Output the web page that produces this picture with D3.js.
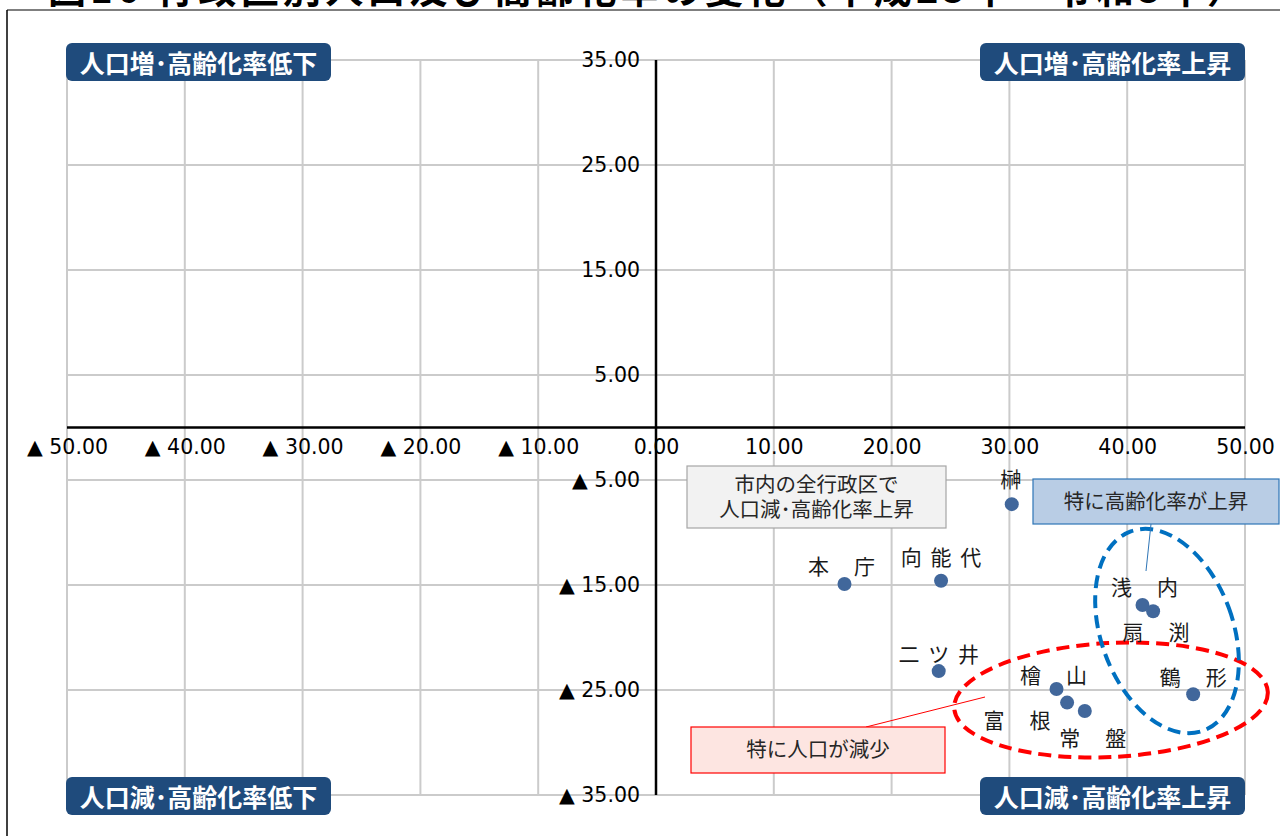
<!DOCTYPE html>
<html lang="ja">
<head>
<meta charset="utf-8">
<title>行政区別人口及び高齢化率の変化</title>
<script src="https://cdn.jsdelivr.net/npm/d3@7/dist/d3.min.js"></script>
<style>
  html, body { margin: 0; padding: 0; background: #fff; overflow: hidden; }
  svg { display: block; font-family: "Noto Sans CJK JP", "Noto Sans", sans-serif; }
</style>
</head>
<body>
<svg id="chart" width="1280" height="836"></svg>
<script>
// 行政区ごとの変化率（%）：x = 高齢化率の変化, y = 人口の変化
const districts   = ["本庁", "向能代", "榊", "二ツ井", "浅内", "扇渕", "鶴形", "檜山", "富根", "常盤"];
const pointLabels = ["本　庁", "向 能 代", "榊", "二 ツ 井", "浅　内", "扇　渕", "鶴　形", "檜　山", "富　根", "常　盤"];
const agingChange = [16.0, 24.2, 30.2, 24.0, 41.3, 42.2, 45.6, 34.0, 34.9, 36.4];
const popChange   = [-14.9, -14.6, -7.3, -23.2, -16.9, -17.5, -25.4, -24.9, -26.2, -27.0];

const xTicks = [-50, -40, -30, -20, -10, 0, 10, 20, 30, 40, 50];
const yTicks = [-35, -25, -15, -5, 5, 15, 25, 35];

const titleText = "図16 行政区別人口及び高齢化率の変化（平成25年→令和5年）";
const quadrantNames = ["人口増･高齢化率低下", "人口増･高齢化率上昇", "人口減･高齢化率低下", "人口減･高齢化率上昇"];

// ラベル位置の調整（点からのずれ, px）
const labelOffsets = {
  "本庁": [-2, -19], "向能代": [1, -25], "榊": [0, -26], "二ツ井": [1, -18],
  "浅内": [3, -19], "扇渕": [4, 20], "鶴形": [1, -18], "檜山": [-2, -15],
  "富根": [-49, 16], "常盤": [9, 26]
};

const svg = d3.select("#chart");

const x = d3.scaleLinear().domain([-50, 50]).range([67, 1245]);
const y = d3.scaleLinear().domain([-35, 35]).range([795, 60]);

const fmt = v => v < 0 ? "▲ " + d3.format(".2f")(-v) : d3.format(".2f")(v);

// 見出し（上端で切れている）
svg.append("text")
  .attr("x", 48).attr("y", 3)
  .attr("font-size", 38).attr("font-weight", "bold").attr("fill", "#000")
  .attr("textLength", 1197).attr("lengthAdjust", "spacing")
  .text(titleText);

// 枠線
svg.append("line").attr("x1", 7).attr("x2", 1280).attr("y1", 10).attr("y2", 10)
  .attr("stroke", "#7f7f7f").attr("stroke-width", 2);
svg.append("line").attr("x1", 7).attr("x2", 7).attr("y1", 10).attr("y2", 836)
  .attr("stroke", "#000").attr("stroke-width", 1.5);

// グリッド線
const grid = svg.append("g").attr("stroke", "#cbcbcb").attr("stroke-width", 2);
grid.selectAll("line.v").data(xTicks).join("line").attr("class", "v")
  .attr("x1", d => x(d)).attr("x2", d => x(d))
  .attr("y1", y(35)).attr("y2", y(-35));
grid.selectAll("line.h").data(yTicks).join("line").attr("class", "h")
  .attr("x1", x(-50)).attr("x2", x(50))
  .attr("y1", d => y(d)).attr("y2", d => y(d));

// 軸
const xAxis = svg.append("g")
  .attr("transform", `translate(0,${y(0)})`)
  .call(d3.axisBottom(x).tickValues(xTicks).tickSize(0).tickPadding(12).tickFormat(fmt));
const yAxis = svg.append("g")
  .attr("transform", `translate(${x(0)},0)`)
  .call(d3.axisLeft(y).tickValues(yTicks).tickSize(0).tickPadding(16).tickFormat(fmt));
[xAxis, yAxis].forEach(g => {
  g.select(".domain").remove();
  g.selectAll("text")
    .attr("font-family", "\"DejaVu Sans\", sans-serif")
    .attr("font-size", 20.5).attr("fill", "#000");
});

svg.append("line").attr("x1", x(-50)).attr("x2", x(50)).attr("y1", y(0)).attr("y2", y(0))
  .attr("stroke", "#000").attr("stroke-width", 2.5);
svg.append("line").attr("x1", x(0)).attr("x2", x(0)).attr("y1", y(35)).attr("y2", y(-35))
  .attr("stroke", "#000").attr("stroke-width", 2.5);

// 象限ラベル
const quadrantBoxes = [
  { name: quadrantNames[0], left: true,  yv: 35 },
  { name: quadrantNames[1], left: false, yv: 35 },
  { name: quadrantNames[2], left: true,  yv: -35 },
  { name: quadrantNames[3], left: false, yv: -35 }
];
const qW = 265, qH = 38;
const qg = svg.append("g").selectAll("g").data(quadrantBoxes).join("g")
  .attr("transform", d => {
    const x0 = d.left ? x(-50) - 1 : x(50) - qW;
    const y0 = y(d.yv) + (d.yv > 0 ? 2 : 1) - qH / 2;
    return `translate(${x0},${y0})`;
  });
qg.append("rect").attr("width", qW).attr("height", qH).attr("rx", 6)
  .attr("fill", "#1f4b7c");
qg.append("text").attr("x", qW / 2).attr("y", qH / 2)
  .attr("text-anchor", "middle").attr("dominant-baseline", "central")
  .attr("font-size", 25).attr("font-weight", "bold").attr("fill", "#fff")
  .text(d => d.name);

// 注記：楕円
svg.append("ellipse")
  .attr("cx", 1111).attr("cy", 700).attr("rx", 157).attr("ry", 57)
  .attr("transform", "rotate(-3,1111,700)")
  .attr("fill", "none").attr("stroke", "#ff0000").attr("stroke-width", 4)
  .attr("stroke-dasharray", "13,7");
svg.append("ellipse")
  .attr("cx", 1167).attr("cy", 631).attr("rx", 66).attr("ry", 106)
  .attr("transform", "rotate(-20,1167,631)")
  .attr("fill", "none").attr("stroke", "#0070c0").attr("stroke-width", 4)
  .attr("stroke-dasharray", "13,7");

// 注記：吹き出し
svg.append("line").attr("x1", 1151).attr("y1", 524).attr("x2", 1146).attr("y2", 571)
  .attr("stroke", "#2e75b6").attr("stroke-width", 1);
svg.append("line").attr("x1", 866).attr("y1", 727).attr("x2", 985).attr("y2", 697)
  .attr("stroke", "#ff0000").attr("stroke-width", 1);

const notes = [
  { lines: ["市内の全行政区で", "人口減･高齢化率上昇"], x0: 687, y0: 466, w: 259, h: 62, fill: "#f2f2f2", stroke: "#a6a6a6" },
  { lines: ["特に高齢化率が上昇"], x0: 1033, y0: 479, w: 246, h: 45, fill: "#b9cde5", stroke: "#2e75b6" },
  { lines: ["特に人口が減少"], x0: 691, y0: 727, w: 254, h: 46, fill: "#fde5e1", stroke: "#ff0000" }
];
const ng = svg.append("g").selectAll("g").data(notes).join("g")
  .attr("transform", d => `translate(${d.x0},${d.y0})`);
ng.append("rect").attr("width", d => d.w).attr("height", d => d.h)
  .attr("fill", d => d.fill).attr("stroke", d => d.stroke).attr("stroke-width", 1.2);
ng.each(function (d) {
  const n = d.lines.length, lh = 25;
  const t = d3.select(this).append("text")
    .attr("text-anchor", "middle")
    .attr("font-size", 20.5).attr("fill", "#262626");
  t.selectAll("tspan").data(d.lines).join("tspan")
    .attr("x", d.w / 2)
    .attr("y", (l, i) => d.h / 2 + (i - (n - 1) / 2) * lh + 7)
    .text(l => l);
});

// 散布点
const pts = districts.map((name, i) => ({
  name, label: pointLabels[i], ax: agingChange[i], py: popChange[i]
}));
svg.append("g").selectAll("circle").data(pts).join("circle")
  .attr("cx", d => x(d.ax)).attr("cy", d => y(d.py)).attr("r", 7)
  .attr("fill", "#41679b");

svg.append("g").selectAll("text").data(pts).join("text")
  .attr("x", d => x(d.ax) + labelOffsets[d.name][0])
  .attr("y", d => y(d.py) + labelOffsets[d.name][1])
  .attr("text-anchor", "middle").attr("dominant-baseline", "central")
  .attr("font-size", 21).attr("letter-spacing", 2).attr("fill", "#1a1a1a")
  .text(d => d.label);
</script>
</body>
</html>
